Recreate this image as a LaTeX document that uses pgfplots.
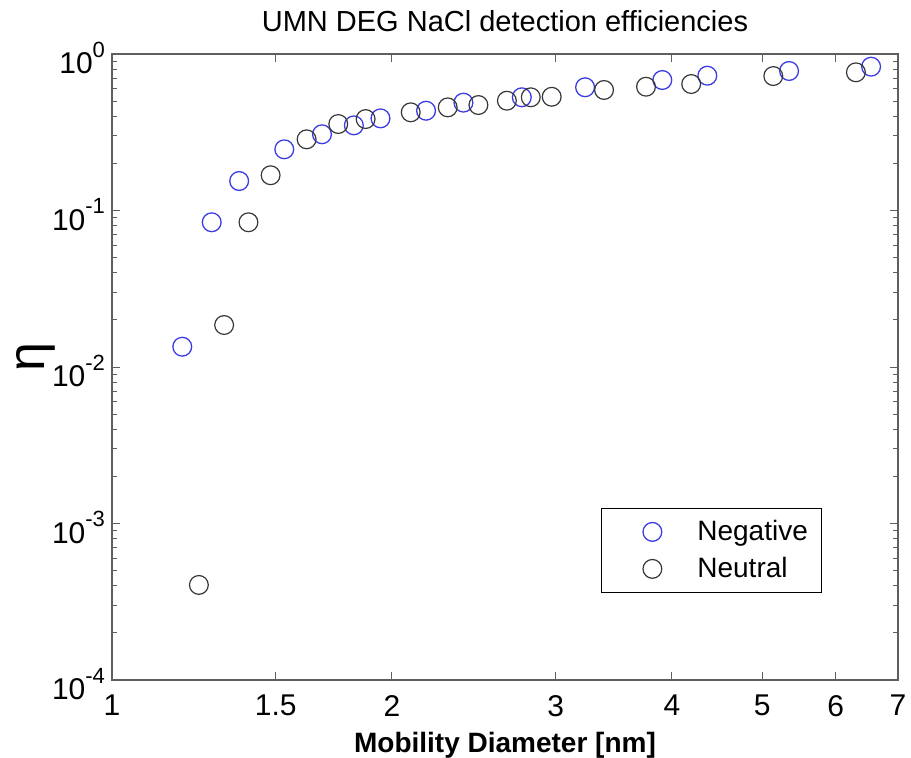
\documentclass[border=0pt]{standalone}
\usepackage{pgfplots}
\pgfplotsset{compat=1.18}
\usepackage{fontspec}
\setmainfont{Liberation Sans}
\definecolor{mblue}{RGB}{60,60,230}
\definecolor{mgray}{RGB}{55,55,55}
\definecolor{axgray}{RGB}{95,95,95}
\newcommand{\fs}[1]{\fontsize{#1}{1.2\dimexpr #1pt\relax}\selectfont}
\newcommand{\tp}[1]{10\raisebox{0.55em}{\fs{11}#1}}
\begin{document}
\begin{tikzpicture}
\useasboundingbox (-56pt,-39pt) rectangle (399.5pt,340pt);
\begin{axis}[
  at={(0,0)}, anchor=south west,
  scale only axis, width=393pt, height=313pt,
  xmode=log, ymode=log,
  xmin=1, xmax=7, ymin=1e-4, ymax=1,
  xtick={1,1.5,2,3,4,5,6,7},
  xticklabels={1,1.5,2,3,4,5,6,7},
  xminorticks=false,
  ytick={1e-4,1e-3,1e-2,1e-1,1},
  yticklabels={\tp{-4},\tp{-3},\tp{-2},\tp{-1},\tp{0}},
  minor ytick={2e-4,3e-4,4e-4,5e-4,6e-4,7e-4,8e-4,9e-4,
               2e-3,3e-3,4e-3,5e-3,6e-3,7e-3,8e-3,9e-3,
               2e-2,3e-2,4e-2,5e-2,6e-2,7e-2,8e-2,9e-2,
               2e-1,3e-1,4e-1,5e-1,6e-1,7e-1,8e-1,9e-1},
  tick pos=both,
  tick align=inside,
  major tick length=4pt,
  minor tick length=2.3pt,
  tick style={draw=axgray, line width=0.5pt},
  axis line style={draw=axgray, line width=0.6pt},
  xticklabel style={font=\fs{15}, yshift=-4pt},
  yticklabel style={font=\fs{15}, yshift=-2pt},
  title={UMN DEG NaCl detection efficiencies},
  title style={font=\fs{14.5}, at={(axis description cs:0.5,1)}, anchor=base, yshift=5.5pt},
  xlabel={\bfseries Mobility Diameter [nm]},
  xlabel style={font=\fs{14}, at={(axis description cs:0.5,0)}, anchor=base, yshift=-36.5pt},
  ylabel={η},
  ylabel style={font=\fs{26}, at={(axis description cs:0,0.5)}, anchor=center, yshift=38pt, xshift=5pt},
  legend image code/.code={
    \path[draw=none,fill=none] (-25.5pt,-9pt) rectangle (22.5pt,9pt);
    \draw[#1] plot coordinates {(0pt,0pt)};
  },
  legend style={
    at={(0.9033,0.139)}, anchor=south east,
    draw=black, line width=0.6pt,
    inner xsep=0pt, inner ysep=2.75pt,
    row sep=0.5pt,
    nodes={inner sep=0pt, font=\fs{14}},
  },
  legend cell align=left,
]
\addplot[only marks, mark=o, mark size=4.7pt, draw=mblue, line width=0.65pt]
coordinates {
(1.190,0.01348) (1.280,0.0841) (1.370,0.1543) (1.532,0.246) (1.682,0.307)
(1.820,0.350) (1.944,0.388) (2.176,0.434) (2.387,0.489) (2.758,0.529)
(3.226,0.613) (3.906,0.682) (4.366,0.727) (5.345,0.779) (6.549,0.830)
};
\addlegendentry{\makebox[62pt][l]{Negative}}
\addplot[only marks, mark=o, mark size=4.7pt, draw=mgray, line width=0.6pt]
coordinates {
(1.240,0.000405) (1.320,0.01855) (1.402,0.0841) (1.481,0.168) (1.619,0.285)
(1.751,0.357) (1.874,0.384) (2.095,0.424) (2.296,0.456) (2.477,0.472)
(2.658,0.503) (2.820,0.529) (2.970,0.533) (3.381,0.589) (3.751,0.618)
(4.195,0.643) (5.140,0.723) (6.307,0.764)
};
\addlegendentry{\makebox[62pt][l]{Neutral}}
\end{axis}
\end{tikzpicture}
\end{document}
